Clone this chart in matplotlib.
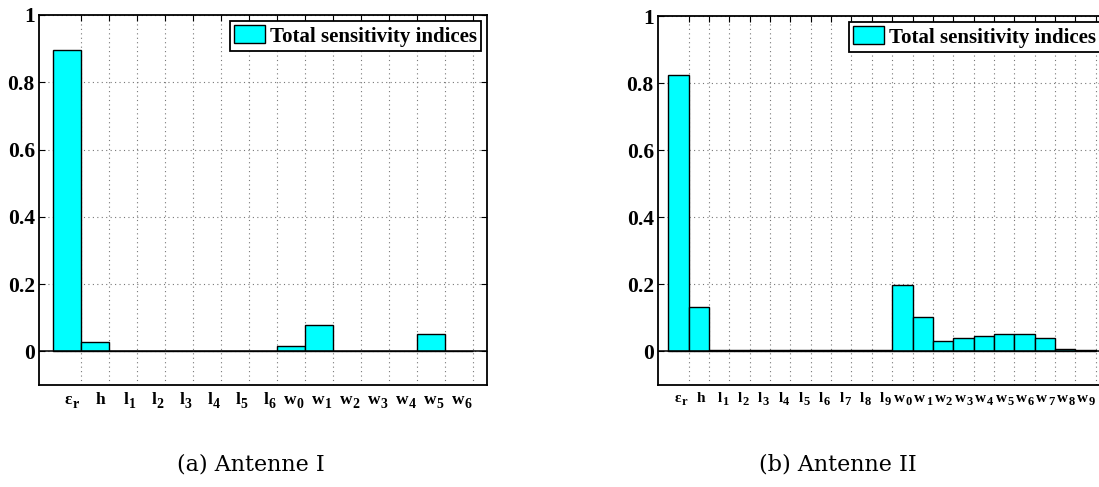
import matplotlib.pyplot as plt
from matplotlib.patches import Patch

plt.rcParams['font.family'] = 'Liberation Serif'

# Antenne I
names_a = ['ε', 'h', 'l', 'l', 'l', 'l', 'l', 'l', 'w', 'w', 'w', 'w', 'w', 'w', 'w']
subs_a = ['r', '', '1', '2', '3', '4', '5', '6', '0', '1', '2', '3', '4', '5', '6']
values_a = [0.895, 0.029, 0, 0, 0, 0, 0, 0, 0.017, 0.078, 0, 0, 0, 0.053, 0]

# Antenne II
names_b = ['ε', 'h'] + ['l'] * 9 + ['w'] * 10
subs_b = ['r', ''] + [str(i) for i in range(1, 10)] + [str(i) for i in range(0, 10)]
values_b = [0.823, 0.133, 0.003, 0.003, 0.003, 0.003, 0.003, 0.004, 0.003,
            0.003, 0.003, 0.199, 0.102, 0.031, 0.040, 0.047, 0.052, 0.052,
            0.040, 0.008, 0.004]

captions = ['(a) Antenne I', '(b) Antenne II']
legend_text = 'Total sensitivity indices'

W, H = 1099, 487
fig = plt.figure(figsize=(W / 100, H / 100), dpi=100)


def draw(rect, names, subs, values, label_shift, fs, fs_sub):
    ax = fig.add_axes(rect)
    n = len(values)
    ax.bar(range(n), values, width=1.0, align='edge', color='#00ffff',
           edgecolor='black', linewidth=1.0, zorder=3)
    ax.axhline(0, color='black', linewidth=1.1, zorder=4)
    ax.set_xlim(-0.5, n + 0.5)
    ax.set_ylim(-0.1, 1)
    ax.set_xticks(range(1, n + 1))
    ax.set_xticklabels([])
    ax.set_yticks([0, 0.2, 0.4, 0.6, 0.8, 1])
    ax.set_yticklabels(['0', '0.2', '0.4', '0.6', '0.8', '1'],
                       fontsize=15.5, fontweight='bold')
    ax.tick_params(axis='both', direction='in', length=4, width=0.8,
                   top=True, right=True, bottom=False, pad=3)
    ax.grid(True, linestyle=(0, (1, 3)), color='#777777', linewidth=0.8, zorder=0)
    for s in ax.spines.values():
        s.set_linewidth(1.3)
    # tick labels: main letter plus a lowered subscript
    for i, (nm, sb) in enumerate(zip(names, subs)):
        t = ax.text(i + 0.5 + label_shift, -0.12, nm, ha='right' if sb else 'center',
                    va='top', fontsize=fs, fontweight='bold')
        if sb:
            ax.annotate(sb, xy=(1, 0), xycoords=t, xytext=(0.3, -2.5),
                        textcoords='offset points', ha='left', va='bottom',
                        fontsize=fs_sub, fontweight='bold')
    leg = ax.legend(handles=[Patch(facecolor='#00ffff', edgecolor='black')],
                    labels=[legend_text], loc='upper right',
                    prop={'family': 'Liberation Serif', 'weight': 'bold', 'size': 15},
                    fancybox=False, framealpha=1, edgecolor='black',
                    borderpad=0.2, handlelength=1.5, handleheight=0.95,
                    handletextpad=0.2, borderaxespad=0.3)
    leg.get_frame().set_linewidth(1.3)
    return ax


ax1 = draw([39 / W, 1 - 385 / H, (487 - 39) / W, (385 - 15) / H],
           names_a, subs_a, values_a, 0.18, 12.5, 10)
ax2 = draw([658 / W, 1 - 385 / H, (1106 - 658) / W, (385 - 16) / H],
           names_b, subs_b, values_b, 0.12, 11, 9)

fig.text(251 / W, 1 - 465 / H, captions[0], ha='center', va='center',
         fontsize=16, family='DejaVu Serif')
fig.text(838 / W, 1 - 465 / H, captions[1], ha='center', va='center',
         fontsize=16, family='DejaVu Serif')

fig.savefig('out.png', dpi=100)
